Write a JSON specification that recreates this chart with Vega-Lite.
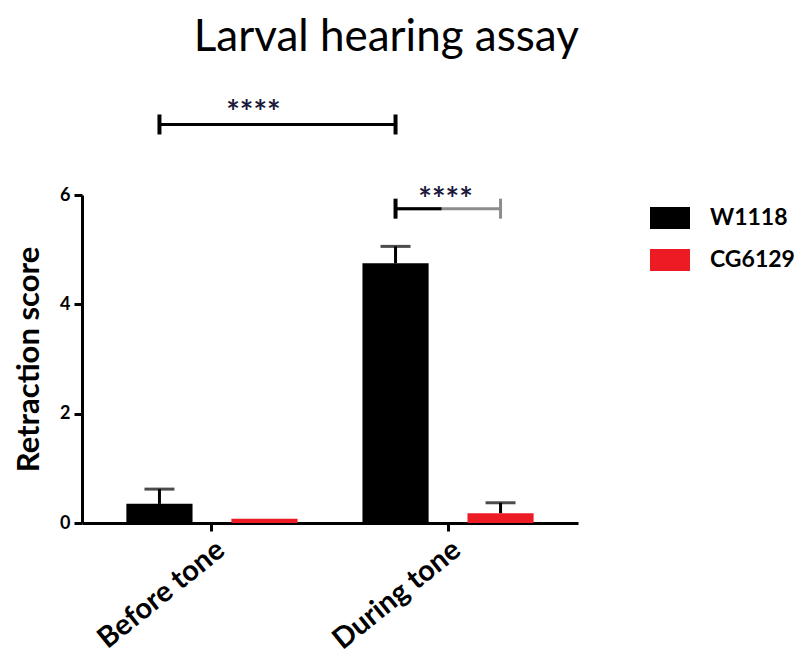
{
  "$schema": "https://vega.github.io/schema/vega-lite/v6.json",
  "width": 496,
  "height": 328,
  "padding": {"left": 13, "top": 16, "right": 5, "bottom": 5},
  "title": {"text": "Larval hearing assay", "font": "Lato", "fontSize": 44, "fontWeight": "normal", "color": "#000", "anchor": "middle", "frame": "bounds", "offset": 38, "dx": -18},
  "config": {
    "view": {"stroke": null},
    "font": "Lato",
    "axis": {"domainColor": "#000", "domainWidth": 3, "tickColor": "#000", "tickWidth": 3, "tickSize": 8, "grid": false, "labelColor": "#000", "titleColor": "#000", "labelFont": "Lato", "titleFont": "Lato", "labelFontWeight": "bold", "titleFontWeight": "bold"}
  },
  "datasets": {
    "bars": [
      {"condition": "Before tone", "genotype": "W1118", "mean": 0.35, "upper": 0.62},
      {"condition": "Before tone", "genotype": "CG6129", "mean": 0.08, "upper": 0.08},
      {"condition": "During tone", "genotype": "W1118", "mean": 4.75, "upper": 5.06},
      {"condition": "During tone", "genotype": "CG6129", "mean": 0.18, "upper": 0.37}
    ],
    "brackets": [
      {"id": "b1", "end": "left", "condition": "Before tone", "genotype": "W1118", "level": 7.29},
      {"id": "b1", "end": "right", "condition": "During tone", "genotype": "W1118", "level": 7.29},
      {"id": "b2", "end": "left", "condition": "During tone", "genotype": "W1118", "level": 5.75},
      {"id": "b2", "end": "right", "condition": "During tone", "genotype": "CG6129", "level": 5.75}
    ]
  },
  "encoding": {
    "x": {"field": "condition", "type": "nominal", "sort": ["Before tone", "During tone"], "scale": {"paddingInner": 0.275, "paddingOuter": 0.188}, "axis": {"title": null, "labelAngle": -39, "labelFontSize": 29, "labelPadding": 4, "labelAlign": "right", "labelBaseline": "top"}},
    "xOffset": {"field": "genotype", "type": "nominal", "sort": ["W1118", "CG6129"], "scale": {"paddingInner": 0.37}}
  },
  "layer": [
    {
      "data": {"name": "bars"},
      "mark": {"type": "bar"},
      "encoding": {
        "y": {"field": "mean", "type": "quantitative", "scale": {"domain": [0, 6], "nice": false}, "axis": {"title": "Retraction score", "values": [0, 2, 4, 6], "format": "d", "labelFontSize": 18, "titleFontSize": 31, "labelPadding": 4, "titlePadding": 14}},
        "color": {"field": "genotype", "type": "nominal", "sort": ["W1118", "CG6129"], "scale": {"domain": ["W1118", "CG6129"], "range": ["#000000", "#ED1C24"]}, "legend": {"title": null, "orient": "none", "legendX": 568, "legendY": 3, "symbolType": "M-1,-0.55H1V0.55H-1Z", "symbolSize": 1600, "symbolStrokeWidth": 0, "labelFontSize": 23, "labelFontWeight": "bold", "labelFont": "Lato", "labelColor": "#000", "labelOffset": 20, "rowPadding": 10}}
      }
    },
    {
      "data": {"name": "bars"},
      "transform": [{"filter": "datum.upper > datum.mean"}],
      "mark": {"type": "rule", "color": "#000", "strokeWidth": 3},
      "encoding": {"y": {"field": "mean", "type": "quantitative"}, "y2": {"field": "upper"}}
    },
    {
      "data": {"name": "bars"},
      "transform": [{"filter": "datum.upper > datum.mean"}],
      "mark": {"type": "tick", "color": "#000", "size": 30, "thickness": 3},
      "encoding": {"y": {"field": "upper", "type": "quantitative"}}
    },
    {
      "data": {"name": "brackets"},
      "transform": [{"filter": "datum.id == 'b1'"}],
      "mark": {"type": "line", "color": "#000", "strokeWidth": 3},
      "encoding": {"y": {"field": "level", "type": "quantitative"}}
    },
    {
      "data": {"name": "brackets"},
      "transform": [{"filter": "datum.id == 'b2'"}],
      "mark": {"type": "line", "color": "#8c8c8c", "strokeWidth": 3},
      "encoding": {"y": {"field": "level", "type": "quantitative"}}
    },
    {
      "data": {"name": "brackets"},
      "transform": [{"filter": "datum.id == 'b2'"}],
      "mark": {"type": "line", "color": "#000", "strokeWidth": 3, "strokeDash": [46, 400]},
      "encoding": {"y": {"field": "level", "type": "quantitative"}}
    },
    {
      "data": {"name": "brackets"},
      "transform": [{"filter": "!(datum.id == 'b2' && datum.end == 'right')"}],
      "mark": {"type": "point", "shape": "M0,-1L0,1", "size": 400, "filled": false, "stroke": "#000", "strokeWidth": 4, "opacity": 1},
      "encoding": {"y": {"field": "level", "type": "quantitative"}}
    },
    {
      "data": {"name": "brackets"},
      "transform": [{"filter": "datum.id == 'b2' && datum.end == 'right'"}],
      "mark": {"type": "point", "shape": "M0,-1L0,1", "size": 400, "filled": false, "stroke": "#8c8c8c", "strokeWidth": 3, "opacity": 1},
      "encoding": {"y": {"field": "level", "type": "quantitative"}}
    },
    {
      "data": {"name": "brackets"},
      "transform": [{"filter": "datum.id == 'b1' && datum.end == 'left'"}],
      "mark": {"type": "text", "text": "****", "font": "Lato", "fontSize": 32, "fontWeight": "bold", "color": "#1a1a3a", "baseline": "middle", "dx": 94, "dy": -10},
      "encoding": {"y": {"field": "level", "type": "quantitative"}}
    },
    {
      "data": {"name": "brackets"},
      "transform": [{"filter": "datum.id == 'b2' && datum.end == 'left'"}],
      "mark": {"type": "text", "text": "****", "font": "Lato", "fontSize": 32, "fontWeight": "bold", "color": "#1a1a3a", "baseline": "middle", "dx": 50, "dy": -8},
      "encoding": {"y": {"field": "level", "type": "quantitative"}}
    }
  ]
}
